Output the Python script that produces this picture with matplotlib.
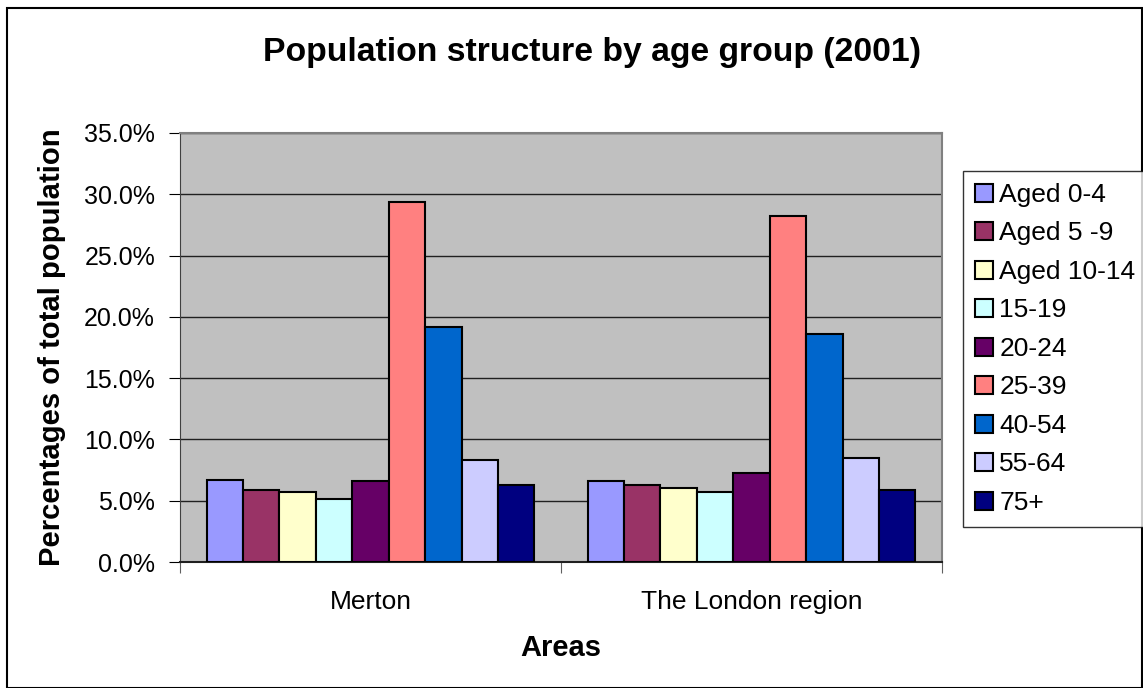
import matplotlib.pyplot as plt
import numpy as np
from matplotlib.patches import Rectangle
from matplotlib.ticker import FuncFormatter, FixedLocator

plt.rcParams['font.family'] = ['Liberation Sans', 'DejaVu Sans']

areas = ["Merton", "The London region"]
age_groups = ["Aged 0-4", "Aged 5 -9", "Aged 10-14", "15-19", "20-24",
              "25-39", "40-54", "55-64", "75+"]
merton = [6.7, 5.9, 5.7, 5.1, 6.6, 29.4, 19.2, 8.3, 6.3]
london = [6.6, 6.3, 6.0, 5.7, 7.3, 28.2, 18.6, 8.5, 5.9]
colors = ["#9999FF", "#993366", "#FFFFCC", "#CCFFFF", "#660066",
          "#FF8080", "#0066CC", "#CCCCFF", "#000080"]

W, H = 1143, 688
fig = plt.figure(figsize=(W / 100, H / 100), dpi=100)
ax = fig.add_axes([180 / W, 1 - 562 / H, (942 - 180) / W, (562 - 133) / H])
ax.set_facecolor("#C0C0C0")

x = np.arange(len(areas))
bw = 0.0956
n = len(age_groups)
for i, (lab, col) in enumerate(zip(age_groups, colors)):
    vals = [merton[i], london[i]]
    ax.bar(x + (i - (n - 1) / 2) * bw, vals, bw, color=col, edgecolor="black",
           linewidth=1.5, label=lab, zorder=3)

ax.set_xlim(-0.5, 1.5)
ax.set_ylim(0, 35)
ax.set_yticks(np.arange(0, 36, 5))
ax.yaxis.set_major_formatter(FuncFormatter(lambda v, p: f"{v:.1f}%"))
ax.yaxis.grid(True, color="#202020", linewidth=1, zorder=0)
ax.set_axisbelow(True)

ax.xaxis.set_major_locator(FixedLocator([-0.5, 0.5, 1.5]))
ax.xaxis.set_major_formatter(FuncFormatter(lambda v, p: ""))
ax.xaxis.set_minor_locator(FixedLocator(x))
ax.set_xticklabels(areas, minor=True)
ax.tick_params(axis="x", which="minor", length=0, labelsize=19, pad=20)
ax.tick_params(axis="x", which="major", length=8, color="#606060")
ax.tick_params(axis="y", length=8, labelsize=18, pad=10)

for s in ["top", "right"]:
    ax.spines[s].set_color("#808080")
    ax.spines[s].set_linewidth(1.5)
ax.spines["left"].set_color("#404040")
ax.spines["bottom"].set_color("#202020")
ax.spines["bottom"].set_linewidth(1.5)

fig.text(592 / W, 1 - 53 / H, "Population structure by age group (2001)",
         ha="center", va="center", fontsize=24.3, fontweight="bold")
fig.text(52 / W, 1 - 347 / H, "Percentages of total population",
         ha="center", va="center", rotation=90, fontsize=21.1, fontweight="bold")
fig.text(561 / W, 1 - 648 / H, "Areas", ha="center", va="center",
         fontsize=21, fontweight="bold")

leg = fig.legend(loc="upper left", bbox_to_anchor=(963 / W, 1 - 171 / H),
                 fontsize=19, frameon=True, fancybox=False, edgecolor="black",
                 handlelength=0.68, handleheight=0.68, handletextpad=0.25,
                 labelspacing=0.55, borderpad=0.45, borderaxespad=0)
leg.get_frame().set_linewidth(1)

fig.patches.append(Rectangle((7 / W, 0), (W - 8) / W, 1 - 8 / H,
                             transform=fig.transFigure, fill=False,
                             edgecolor="black", linewidth=1.5))

fig.savefig("out.png", dpi=100)
